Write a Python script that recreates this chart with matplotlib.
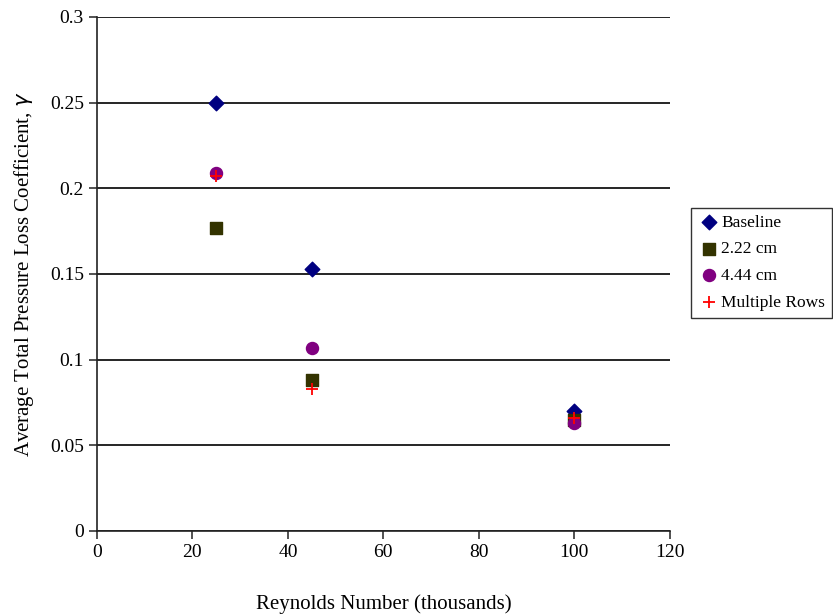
import matplotlib.pyplot as plt

plt.rcParams['font.family'] = ['Liberation Serif', 'DejaVu Serif']

# данные (Re в тысячах)
re_k = [25, 45, 100]
baseline = [0.250, 0.153, 0.070]
cm222 = [0.177, 0.088, 0.065]
cm444 = [0.209, 0.107, 0.063]
multi = [0.207, 0.083, 0.066]

fig = plt.figure(figsize=(8.33, 6.15), dpi=100)
ax = fig.add_axes([0.1164, 0.1366, 0.804 - 0.1164, 0.9724 - 0.1366])

ax.scatter(re_k, baseline, marker='D', s=55, color='#000080', label='Baseline', zorder=3)
ax.scatter(re_k, cm222, marker='s', s=75, color='#333300', label='2.22 cm', zorder=3)
ax.scatter(re_k, cm444, marker='o', s=75, color='#800080', label='4.44 cm', zorder=3)
ax.scatter(re_k, multi, marker='+', s=80, color='red', linewidths=1.3, label='Multiple Rows', zorder=4)

ax.set_xlim(0, 120)
ax.set_ylim(0, 0.3)
ax.set_xticks(range(0, 121, 20))
ax.set_yticks([0, 0.05, 0.1, 0.15, 0.2, 0.25, 0.3])
ax.set_yticklabels(['0', '0.05', '0.1', '0.15', '0.2', '0.25', '0.3'])
ax.grid(axis='y', color='black', linewidth=1.2)
ax.set_axisbelow(True)
ax.spines['top'].set_visible(False)
ax.spines['right'].set_visible(False)
ax.spines['left'].set_color('#222222')
ax.spines['bottom'].set_color('#222222')
ax.spines['left'].set_linewidth(1.2)
ax.spines['bottom'].set_linewidth(1.2)
ax.tick_params(direction='out', length=6, labelsize=14, color='#222222', width=1.1)

ax.set_xlabel('Reynolds Number (thousands)', fontsize=15, labelpad=24)
ax.set_ylabel('Average Total Pressure Loss Coefficient, $\\gamma$', fontsize=15, labelpad=10)

leg = ax.legend(loc='center left', bbox_to_anchor=(1.038, 0.522), fontsize=12.5,
                frameon=True, fancybox=False, edgecolor='black', handletextpad=0.1,
                borderpad=0.4, labelspacing=0.6, handlelength=1.2, borderaxespad=0)
leg.get_frame().set_linewidth(1.0)

fig.savefig('out.png', dpi=100)
